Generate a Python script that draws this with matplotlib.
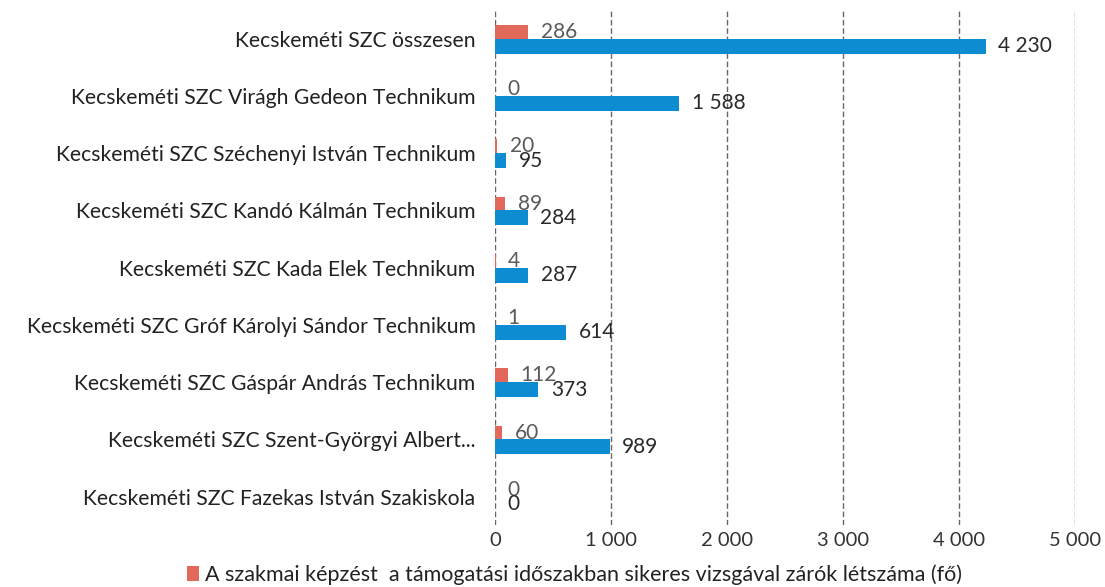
import numpy as np
import matplotlib.pyplot as plt
from matplotlib.ticker import FuncFormatter

plt.rcParams['font.family'] = ['Lato', 'DejaVu Sans']

schools = [
    'Kecskeméti SZC összesen',
    'Kecskeméti SZC Virágh Gedeon Technikum',
    'Kecskeméti SZC Széchenyi István Technikum',
    'Kecskeméti SZC Kandó Kálmán Technikum',
    'Kecskeméti SZC Kada Elek Technikum',
    'Kecskeméti SZC Gróf Károlyi Sándor Technikum',
    'Kecskeméti SZC Gáspár András Technikum',
    'Kecskeméti SZC Szent-Györgyi Albert...',
    'Kecskeméti SZC Fazekas István Szakiskola',
]
sikeres = [286, 0, 20, 89, 4, 1, 112, 60, 0]
osszes = [4230, 1588, 95, 284, 287, 614, 373, 989, 0]
x_ticks = [0, 1000, 2000, 3000, 4000, 5000]


def hu(v):
    return f'{int(v):,}'.replace(',', ' ')


fig = plt.figure(figsize=(11.05, 5.87), dpi=100)
ax = fig.add_axes([0.448, 0.105, 0.525, 0.878])

y = np.arange(len(schools))
b1 = ax.barh(y - 0.12, sikeres, height=0.24, color='#E2695A',
             label='A szakmai képzést  a támogatási időszakban sikeres vizsgával zárók létszáma (fő)')
b2 = ax.barh(y + 0.13, osszes, height=0.26, color='#0E8CD2')

ax.bar_label(b1, labels=[hu(v) for v in sikeres], padding=9, fontsize=15, color='#5a5a5a')
ax.bar_label(b2, labels=[hu(v) for v in osszes], padding=9, fontsize=15, color='#2a2a2a')

ax.set_xlim(0, 5000)
ax.set_ylim(len(schools) - 0.5, -0.5)
ax.set_xticks(x_ticks)
ax.xaxis.set_major_formatter(FuncFormatter(lambda v, p: hu(v)))
ax.set_yticks(y)
ax.set_yticklabels(schools, fontsize=15.2, color='#222222')
ax.tick_params(axis='x', labelsize=14.5, colors='#333333', length=0, pad=5)
ax.tick_params(axis='y', length=0, pad=14)
ax.grid(axis='x', color='#666666', linestyle=(0, (4, 2)), linewidth=1)
ax.set_axisbelow(True)
for s in ax.spines.values():
    s.set_visible(False)

fig.legend(handles=[b1], loc='lower center', bbox_to_anchor=(0.52, -0.03),
           frameon=False, fontsize=15.5, handlelength=0.55, handleheight=0.65,
           handletextpad=0.3, labelcolor='#222222')

fig.savefig('out.png')
